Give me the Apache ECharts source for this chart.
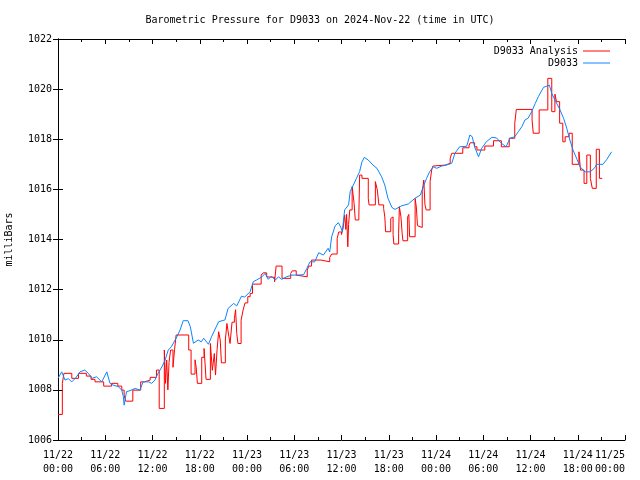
<!DOCTYPE html>
<html>
<head>
<meta charset="utf-8">
<script src="https://cdn.jsdelivr.net/npm/echarts@6/dist/echarts.min.js"></script>
<style>html,body{margin:0;padding:0;background:#fff;}#c{width:640px;height:480px;}</style>
</head>
<body>
<div id="c"></div>
<script>
const titleText = 'Barometric Pressure for D9033 on 2024-Nov-22 (time in UTC)';
const yAxisName = 'milliBars';
const seriesNames = ['D9033 Analysis', 'D9033'];
const xTickLabels = ['11/22\n00:00','11/22\n06:00','11/22\n12:00','11/22\n18:00','11/23\n00:00','11/23\n06:00','11/23\n12:00','11/23\n18:00','11/24\n00:00','11/24\n06:00','11/24\n12:00','11/24\n18:00','11/25\n00:00'];

// hours since 11/22 00:00 UTC
const redHours = [0.0,0.55,0.75,1.75,2.6,3.6,4.2,4.7,5.8,6.8,7.6,8.1,8.4,8.6,9.5,10.5,11.0,11.7,12.5,12.85,13.5,13.65,13.8,13.95,14.1,14.3,14.6,14.8,15.0,16.6,16.9,17.4,17.55,17.7,18.25,18.55,18.8,19.35,19.6,19.85,20.0,20.2,20.4,20.6,20.75,21.25,21.45,21.7,21.85,22.1,22.4,22.55,22.7,22.85,23.25,23.5,23.75,24.1,24.4,24.7,25.8,26.05,26.5,26.65,27.5,27.7,28.45,29.55,29.75,30.25,30.45,31.65,31.85,32.2,33.4,34.5,34.75,35.45,35.65,36.0,36.2,36.4,36.55,36.65,36.8,36.9,37.05,37.35,37.6,37.75,38.2,38.3,38.6,39.4,39.5,40.3,40.55,40.75,41.35,41.5,41.6,42.25,42.45,42.55,42.65,43.25,43.35,43.55,43.7,43.8,44.4,44.55,44.65,45.35,45.5,45.65,45.75,46.25,46.45,46.6,46.75,47.25,47.45,47.6,47.8,49.2,49.8,50.0,51.4,52.2,52.35,52.9,53.2,54.2,55.3,56.3,57.3,58.0,58.2,60.2,60.35,61.1,62.2,62.7,63.1,63.3,63.7,64.1,64.4,64.9,65.3,66.15,66.35,66.8,67.15,67.6,67.85,68.35,68.75,69.1];
const redValues = [1007.02,1008.26,1008.66,1008.46,1008.66,1008.55,1008.42,1008.32,1008.15,1008.26,1008.15,1007.99,1007.79,1007.55,1007.99,1008.32,1008.39,1008.5,1008.79,1007.26,1009.59,1008.26,1009.19,1008.0,1009.1,1009.59,1008.9,1009.6,1010.19,1009.59,1008.63,1009.2,1008.9,1008.26,1009.3,1009.65,1008.42,1009.85,1008.78,1009.45,1008.59,1009.6,1010.32,1009.99,1009.08,1009.99,1010.65,1010.12,1009.85,1010.7,1010.85,1011.2,1010.25,1009.85,1010.78,1011.18,1011.47,1011.72,1011.85,1012.22,1012.58,1012.67,1012.51,1012.49,1012.31,1012.94,1012.45,1012.65,1012.75,1012.58,1012.51,1012.78,1012.94,1013.18,1013.11,1013.28,1013.42,1014.04,1014.3,1014.2,1014.45,1014.98,1014.4,1015.0,1013.71,1014.6,1015.18,1016.11,1015.44,1014.78,1014.9,1016.57,1016.44,1015.64,1015.38,1016.31,1015.97,1015.38,1015.24,1014.9,1014.31,1014.84,1014.9,1014.2,1013.82,1014.25,1015.31,1014.9,1014.25,1013.95,1014.9,1015.0,1014.11,1015.64,1015.3,1014.55,1014.48,1015.91,1016.37,1015.38,1015.18,1016.31,1016.77,1016.93,1016.97,1017.04,1017.24,1017.44,1017.66,1017.76,1017.86,1017.7,1017.57,1017.73,1017.94,1017.7,1018.04,1018.64,1019.19,1018.77,1018.24,1019.17,1020.43,1019.1,1019.8,1019.5,1018.64,1017.9,1018.1,1018.24,1017.0,1017.5,1016.77,1016.24,1017.37,1016.44,1016.04,1017.6,1016.44,1016.44];

const blueHours = [0,0.47,0.9,1.3,1.75,2.3,2.8,3.4,3.85,4.3,4.9,5.55,6.2,6.6,7.0,7.65,8.1,8.3,8.4,8.7,9.15,9.8,10.4,10.8,11.5,11.9,12.3,12.7,13.2,13.6,14.0,14.4,15.1,15.5,15.9,16.5,16.8,17.2,17.8,18.2,18.5,19.1,19.5,19.9,20.4,21.2,21.6,22.3,22.7,23.3,23.7,24.4,24.8,25.2,25.9,26.3,26.7,27.1,27.6,28.0,28.4,29.0,29.7,30.5,31.2,31.6,32.0,32.6,33.1,33.7,34.3,34.5,34.75,35.2,35.6,35.9,36.1,36.4,36.9,37.1,37.5,37.9,38.3,38.6,38.9,39.4,40.0,40.5,41.1,41.5,41.9,42.4,42.8,43.6,44.5,45.3,46.0,46.4,46.8,47.2,47.65,48.1,48.7,49.3,50.0,50.4,51.0,51.9,52.3,52.6,52.9,53.4,53.8,54.4,55.1,55.7,56.3,56.9,57.4,58.0,58.45,58.9,59.3,59.7,60.15,60.6,61.0,61.65,61.9,62.4,62.7,63.1,63.75,64.2,64.6,65.0,65.4,65.9,66.3,66.9,67.6,68.2,68.4,69.2,69.7,70.3];
const blueValues = [1008.46,1008.72,1008.39,1008.45,1008.32,1008.5,1008.72,1008.79,1008.66,1008.46,1008.52,1008.32,1008.72,1008.26,1008.19,1008.13,1007.99,1007.73,1007.39,1007.93,1007.97,1008.06,1007.99,1008.32,1008.32,1008.26,1008.39,1008.66,1008.92,1009.19,1009.59,1009.72,1010.12,1010.39,1010.76,1010.76,1010.52,1009.86,1009.99,1009.92,1010.06,1009.82,1010.12,1010.39,1010.72,1010.79,1011.25,1011.45,1011.35,1011.74,1011.7,1011.92,1012.32,1012.38,1012.51,1012.65,1012.41,1012.54,1012.38,1012.51,1012.41,1012.51,1012.58,1012.58,1012.6,1012.85,1013.11,1013.11,1013.47,1013.38,1013.65,1013.5,1014.11,1014.55,1014.67,1014.5,1014.31,1015.18,1015.38,1015.91,1016.17,1016.44,1016.71,1017.1,1017.28,1017.17,1016.97,1016.84,1016.5,1016.17,1015.64,1015.28,1015.2,1015.34,1015.42,1015.64,1015.77,1016.11,1016.44,1016.71,1016.9,1016.84,1016.93,1016.97,1017.04,1017.44,1017.7,1017.72,1018.17,1018.1,1017.7,1017.3,1017.64,1017.9,1018.08,1018.05,1017.84,1017.7,1018.04,1018.1,1018.3,1018.5,1018.77,1018.84,1019.1,1019.43,1019.7,1020.07,1020.0,1020.16,1019.83,1019.57,1019.17,1018.84,1018.44,1017.97,1017.57,1017.2,1016.9,1016.7,1016.7,1016.88,1017.0,1017.0,1017.2,1017.5];

const FONT = 'DejaVu Sans Mono';
const chart = echarts.init(document.getElementById('c'), null, {renderer: 'canvas'});
const axisCommon = {
  axisLine: {show: true, lineStyle: {color: '#000', width: 1}},
  splitLine: {show: false}
};
chart.setOption({
  animation: false,
  backgroundColor: '#fff',
  textStyle: {fontFamily: FONT},
  title: {
    text: titleText, left: 'center', top: 10,
    textStyle: {fontFamily: FONT, fontSize: 10, fontWeight: 'normal', color: '#000'}
  },
  legend: {
    orient: 'vertical', right: 25, top: 41, align: 'right',
    itemWidth: 27, itemHeight: 1, itemGap: 2,
    icon: 'rect',
    textStyle: {fontFamily: FONT, fontSize: 10, color: '#000'},
    data: seriesNames
  },
  grid: {left: 58, right: 15, top: 39, bottom: 40, containLabel: false, outerBoundsMode: 'none'},
  xAxis: [{
    type: 'value', min: 0, max: 72, interval: 6, position: 'bottom',
    ...axisCommon,
    axisTick: {show: true, inside: true, length: 5, lineStyle: {color: '#000'}},
    minorTick: {show: true, splitNumber: 2, length: 3, lineStyle: {color: '#000'}},
    axisLabel: {
      fontFamily: FONT, fontSize: 10, color: '#000', margin: 8, lineHeight: 14,
      alignMaxLabel: 'right',
      formatter: v => xTickLabels[Math.round(v / 6)]
    }
  }, {
    type: 'value', min: 0, max: 72, interval: 6, position: 'top',
    ...axisCommon,
    axisTick: {show: true, inside: true, length: 5, lineStyle: {color: '#000'}},
    minorTick: {show: true, splitNumber: 2, length: 3, lineStyle: {color: '#000'}},
    axisLabel: {show: false}
  }],
  yAxis: [{
    type: 'value', min: 1006, max: 1022, interval: 2, position: 'left',
    ...axisCommon,
    name: yAxisName, nameLocation: 'middle', nameGap: 44, nameRotate: 90,
    nameTextStyle: {fontFamily: FONT, fontSize: 10, color: '#000'},
    axisTick: {show: true, inside: true, length: 5, lineStyle: {color: '#000'}},
    axisLabel: {fontFamily: FONT, fontSize: 10, color: '#000', margin: 6, formatter: v => String(v)}
  }, {
    type: 'value', min: 1006, max: 1022, interval: 2, position: 'right',
    ...axisCommon,
    axisTick: {show: true, inside: true, length: 5, lineStyle: {color: '#000'}},
    axisLabel: {show: false}
  }],
  series: [{
    name: seriesNames[0], type: 'line', step: 'end', symbol: 'none',
    lineStyle: {color: '#ff0000', width: 1}, itemStyle: {color: '#ff0000'},
    data: redHours.map((h, i) => [h, redValues[i]])
  }, {
    name: seriesNames[1], type: 'line', symbol: 'none',
    lineStyle: {color: '#0a84ff', width: 1}, itemStyle: {color: '#0a84ff'},
    data: blueHours.map((h, i) => [h, blueValues[i]])
  }]
});
</script>
</body>
</html>
